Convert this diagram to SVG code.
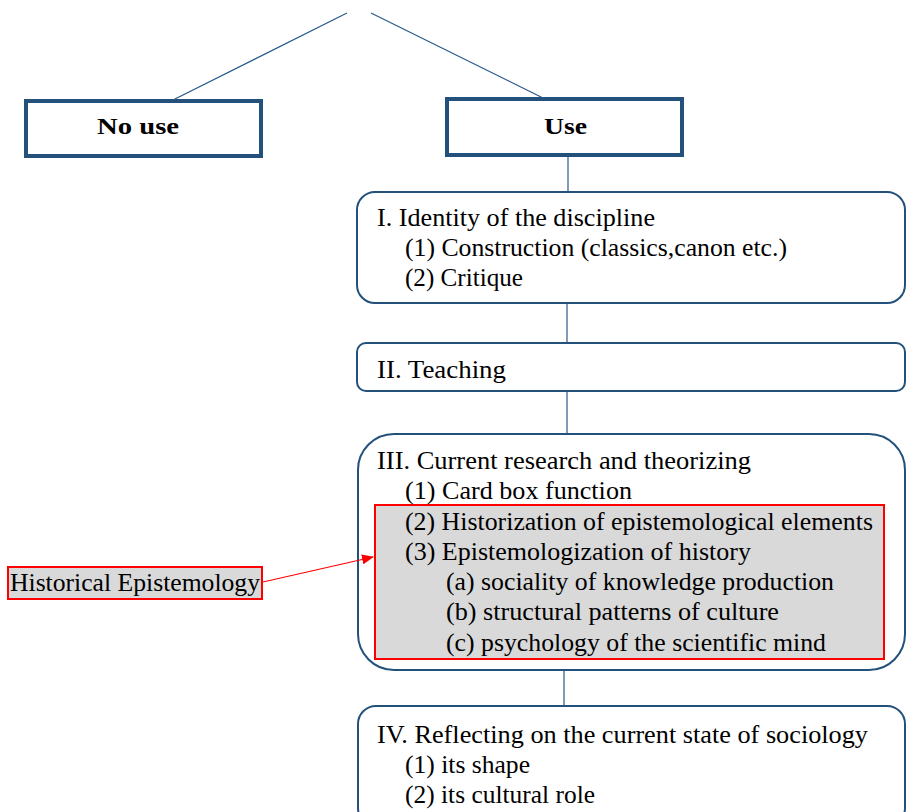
<svg xmlns="http://www.w3.org/2000/svg" width="906" height="812" viewBox="0 0 906 812">
<style>
.t{font-family:"Liberation Serif","Times New Roman",serif;font-size:24.5px;fill:#000}
.b{font-family:"Liberation Serif","Times New Roman",serif;font-size:24px;font-weight:bold;fill:#000}
.box{fill:#fff;stroke:#24507c;stroke-width:2}
.hd{fill:#fff;stroke:#24507c;stroke-width:4}
.ln{stroke:#2b5a88;stroke-width:1.2;fill:none}
</style>
<defs>
<marker id="ah" markerWidth="12" markerHeight="10" refX="11" refY="5" orient="auto" markerUnits="userSpaceOnUse">
<path d="M0,0 L12,5 L0,10 z" fill="#ff0000"/>
</marker>
</defs>
<g id="nouse">
<rect class="hd" x="26" y="101" width="235" height="55"/>
<text class="b" x="97" y="134" textLength="82" lengthAdjust="spacingAndGlyphs">No use</text>
</g>
<g id="use">
<rect class="hd" x="447" y="99" width="235" height="56"/>
<text class="b" x="544" y="134" textLength="43" lengthAdjust="spacingAndGlyphs">Use</text>
</g>
<g id="identity">
<rect class="box" x="357" y="192" width="548" height="111" rx="18"/>
<text class="t" x="377" y="226" textLength="278" lengthAdjust="spacingAndGlyphs">I. Identity of the discipline</text>
<text class="t" x="405" y="256" textLength="382" lengthAdjust="spacingAndGlyphs">(1) Construction (classics,canon etc.)</text>
<text class="t" x="405" y="286" textLength="118" lengthAdjust="spacingAndGlyphs">(2) Critique</text>
</g>
<g id="teaching">
<rect class="box" x="357" y="343" width="548" height="48" rx="9"/>
<text class="t" x="377" y="378" textLength="129" lengthAdjust="spacingAndGlyphs">II. Teaching</text>
</g>
<g id="research">
<rect class="box" x="358" y="434" width="547" height="236" rx="36"/>
<rect x="375" y="505" width="509" height="154" fill="#d9d9d9" stroke="#ff0000" stroke-width="2"/>
<text class="t" x="377" y="469" textLength="374" lengthAdjust="spacingAndGlyphs">III. Current research and theorizing</text>
<text class="t" x="405" y="499" textLength="227" lengthAdjust="spacingAndGlyphs">(1) Card box function</text>
<text class="t" x="405" y="530" textLength="468" lengthAdjust="spacingAndGlyphs">(2) Historization of epistemological elements</text>
<text class="t" x="405" y="560" textLength="346" lengthAdjust="spacingAndGlyphs">(3) Epistemologization of history</text>
<text class="t" x="446" y="590" textLength="388" lengthAdjust="spacingAndGlyphs">(a) sociality of knowledge production</text>
<text class="t" x="446" y="620" textLength="333" lengthAdjust="spacingAndGlyphs">(b) structural patterns of culture</text>
<text class="t" x="446" y="651" textLength="380" lengthAdjust="spacingAndGlyphs">(c) psychology of the scientific mind</text>
</g>
<g id="reflecting">
<rect class="box" x="358" y="706" width="547" height="120" rx="18"/>
<text class="t" x="377" y="743" textLength="491" lengthAdjust="spacingAndGlyphs">IV. Reflecting on the current state of sociology</text>
<text class="t" x="405" y="773" textLength="125" lengthAdjust="spacingAndGlyphs">(1) its shape</text>
<text class="t" x="405" y="803" textLength="190" lengthAdjust="spacingAndGlyphs">(2) its cultural role</text>
</g>
<g id="histepi">
<rect x="8" y="567" width="254" height="32" fill="#d9d9d9" stroke="#ff0000" stroke-width="2"/>
<text class="t" x="10" y="591" textLength="250" lengthAdjust="spacingAndGlyphs">Historical Epistemology</text>
</g>
<g id="connectors">
<line class="ln" x1="347" y1="13" x2="173" y2="100"/>
<line class="ln" x1="371" y1="13" x2="543" y2="98"/>
<line class="ln" x1="568" y1="157" x2="568" y2="191"/>
<line class="ln" x1="567" y1="304" x2="567" y2="342"/>
<line class="ln" x1="567" y1="392" x2="567" y2="433"/>
<line class="ln" x1="564" y1="671" x2="564" y2="705"/>
<line x1="263" y1="582" x2="373" y2="557" stroke="#ff0000" stroke-width="1.2" marker-end="url(#ah)"/>
</g>
</svg>
